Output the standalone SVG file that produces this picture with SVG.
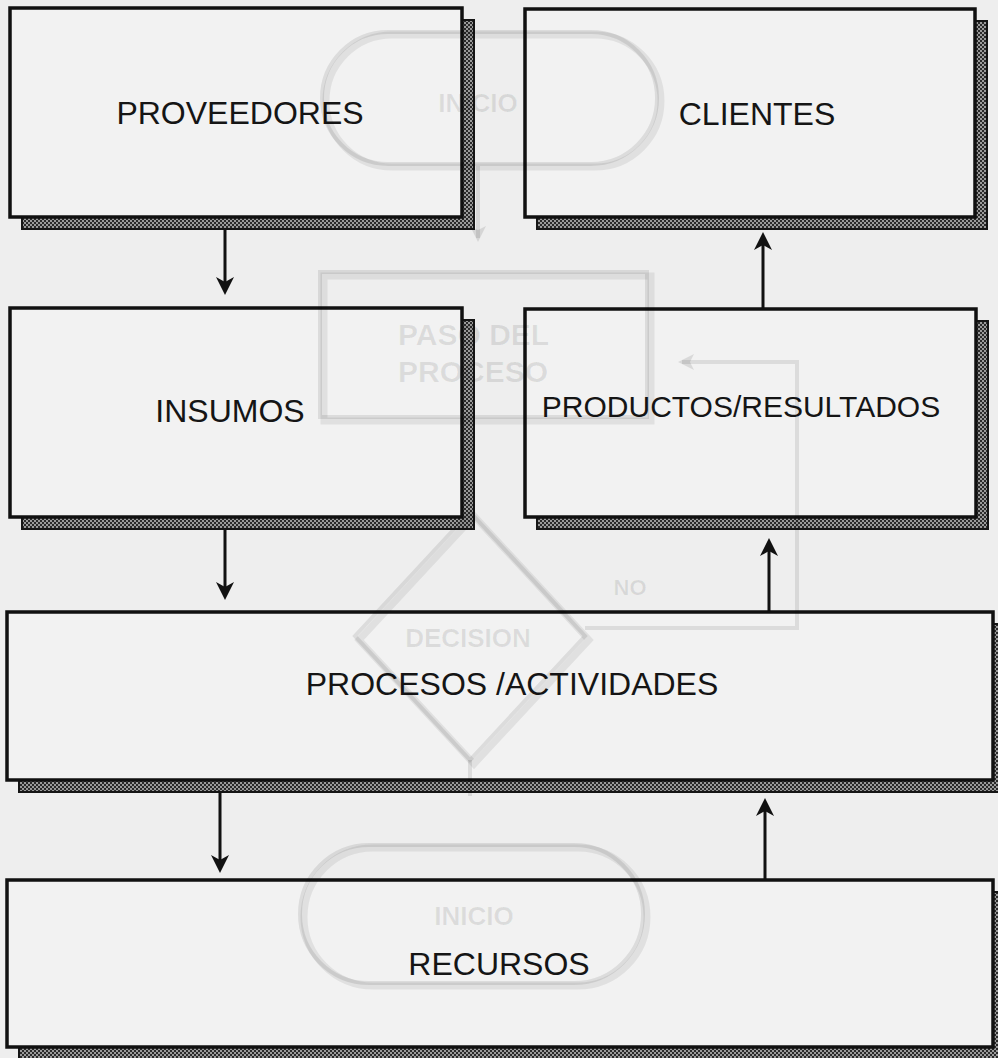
<svg xmlns="http://www.w3.org/2000/svg" width="998" height="1058" viewBox="0 0 998 1058">
<defs>
<pattern id="stip" width="4" height="4" patternUnits="userSpaceOnUse">
<rect width="4" height="4" fill="#9a9a9a"/>
<rect width="2" height="2" fill="#2a2a2a"/>
<rect x="2" y="2" width="2" height="2" fill="#2a2a2a"/>
</pattern>
<marker id="ah" markerUnits="userSpaceOnUse" markerWidth="20" markerHeight="20" refX="12" refY="9" orient="auto">
<path d="M0,0 L18,9 L0,18 L5,9 Z" fill="#111"/>
</marker>
<marker id="gah" markerUnits="userSpaceOnUse" markerWidth="20" markerHeight="20" refX="12" refY="8" orient="auto">
<path d="M0,0 L16,8 L0,16 L4,8 Z" fill="#000" fill-opacity="0.1"/>
</marker>
</defs>
<style>
.shadow{fill:url(#stip);stroke:#151515;stroke-width:2}
.box{fill:#f2f2f2;stroke:#111;stroke-width:3.5}
.lbl{font-family:"Liberation Sans",Arial,sans-serif;font-size:32px;fill:#151515;text-anchor:middle}
.conn{stroke:#111;stroke-width:3;fill:none;marker-end:url(#ah)}
.ghost{fill:none;stroke:#000;stroke-opacity:0.09;stroke-width:4}
.gshade{fill:none;stroke:#000;stroke-opacity:0.07;stroke-width:7}
.gtxt{font-family:"Liberation Sans",Arial,sans-serif;font-weight:bold;fill:#000;fill-opacity:0.09}
</style>
<rect width="998" height="1058" fill="#eeeeee"/>

<g id="node-proveedores">
<rect x="22" y="20" width="452" height="209" class="shadow"/>
<rect x="10" y="8" width="452" height="209" class="box"/>
<text x="240" y="124" class="lbl">PROVEEDORES</text>
</g>
<g id="node-clientes">
<rect x="537" y="21" width="450" height="208" class="shadow"/>
<rect x="525" y="9" width="450" height="208" class="box"/>
<text x="757" y="125" class="lbl">CLIENTES</text>
</g>
<g id="node-insumos">
<rect x="22" y="320" width="452" height="209" class="shadow"/>
<rect x="10" y="308" width="452" height="209" class="box"/>
<text x="230" y="422" class="lbl">INSUMOS</text>
</g>
<g id="node-productos">
<rect x="537" y="321" width="451" height="208" class="shadow"/>
<rect x="525" y="309" width="451" height="208" class="box"/>
<text x="741" y="417" class="lbl" style="font-size:30px">PRODUCTOS/RESULTADOS</text>
</g>
<g id="node-procesos">
<rect x="19" y="624" width="986" height="168" class="shadow"/>
<rect x="7" y="612" width="986" height="168" class="box"/>
<text x="512" y="695" class="lbl">PROCESOS /ACTIVIDADES</text>
</g>
<g id="node-recursos">
<rect x="19" y="892" width="986" height="167" class="shadow"/>
<rect x="7" y="880" width="986" height="167" class="box"/>
<text x="499" y="975" class="lbl">RECURSOS</text>
</g>

<g id="background-ghost">
<rect x="326" y="35" width="335" height="132" rx="66" class="gshade"/>
<rect x="322" y="32" width="335" height="132" rx="66" class="ghost"/>
<text x="478" y="112" class="gtxt" font-size="26" text-anchor="middle">INICIO</text>
<path d="M478,166 L478,238" class="ghost" marker-end="url(#gah)"/>
<rect x="324" y="276" width="327" height="145" class="gshade"/>
<rect x="320" y="272" width="327" height="145" class="ghost"/>
<text x="398" y="345" class="gtxt" font-size="30">PASO DEL</text>
<text x="398" y="382" class="gtxt" font-size="30">PROCESO</text>
<path d="M585,628 L797,628 L797,362 L682,362" class="ghost" marker-end="url(#gah)"/>
<text x="630" y="595" class="gtxt" font-size="22" text-anchor="middle">NO</text>
<path d="M474,516 L589,640 L474,764 L359,640 Z" class="gshade"/>
<path d="M470,512 L585,636 L470,760 L355,636 Z" class="ghost"/>
<text x="468" y="647" class="gtxt" font-size="26" text-anchor="middle">DECISION</text>
<path d="M470,760 L470,796" class="ghost"/>
<rect x="304" y="848" width="343" height="138" rx="69" class="gshade"/>
<rect x="300" y="845" width="343" height="138" rx="69" class="ghost"/>
<text x="474" y="925" class="gtxt" font-size="26" text-anchor="middle">INICIO</text>
</g>

<g id="connectors">
<path d="M225,230 L225,289" class="conn"/>
<path d="M763,308 L763,238" class="conn"/>
<path d="M225,530 L225,594" class="conn"/>
<path d="M769,612 L769,544" class="conn"/>
<path d="M220,793 L220,867" class="conn"/>
<path d="M765,879 L765,804" class="conn"/>
</g>
</svg>
